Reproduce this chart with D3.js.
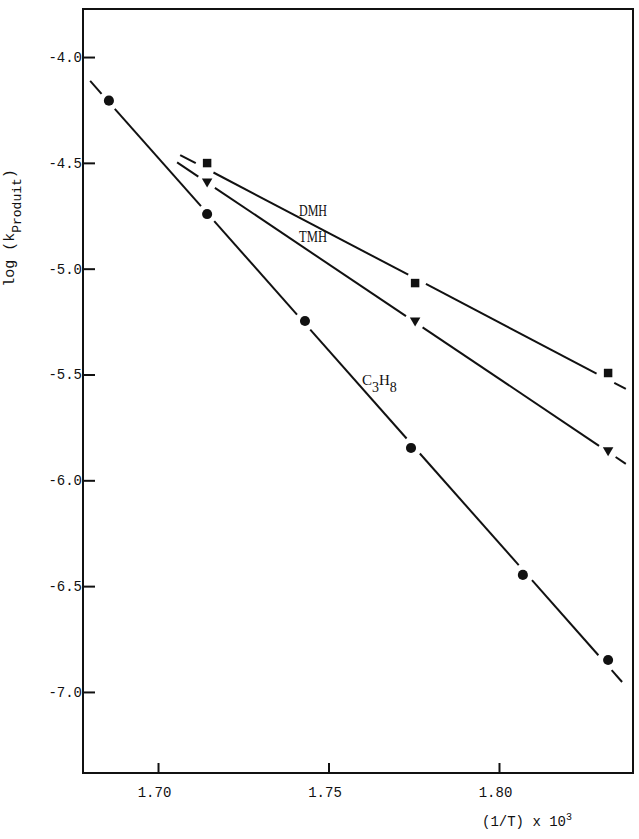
<!DOCTYPE html>
<html>
<head>
<meta charset="utf-8">
<script src="https://cdn.jsdelivr.net/npm/d3@7"></script>
<style>
  html, body { margin: 0; padding: 0; background: #fff; }
  svg { display: block; }
</style>
</head>
<body>
<div id="chart"></div>
<script>
// ---- Data ----
const seriesNames = ["C3H8", "DMH", "TMH"];

const c3h8X = [1.6856, 1.7144, 1.7431, 1.7742, 1.8070, 1.8320];
const c3h8Y = [-4.206, -4.742, -5.247, -5.847, -6.447, -6.849];

const dmhX = [1.7144, 1.7754, 1.8320];
const dmhY = [-4.501, -5.068, -5.493];

const tmhX = [1.7144, 1.7754, 1.8320];
const tmhY = [-4.588, -5.245, -5.858];

// fitted lines as drawn in the reference: [x0, y0, x1, y1]
const c3h8Line = [1.6801, -4.113, 1.8361, -6.953];
const dmhLine  = [1.7065, -4.463, 1.8372, -5.568];
const tmhLine  = [1.7056, -4.498, 1.8372, -5.922];

const xTickValues = [1.70, 1.75, 1.80];
const xTickLabels = ["1.70", "1.75", "1.80"];
const yTickValues = [-4.0, -4.5, -5.0, -5.5, -6.0, -6.5, -7.0];
const yTickLabels = ["-4.0", "-4.5", "-5.0", "-5.5", "-6.0", "-6.5", "-7.0"];

const xDomain = [1.678, 1.8393];
const yDomain = [-3.773, -7.383];

// ---- Layout ----
const W = 639, H = 839;
const margin = {left: 83, top: 9, right: 6, bottom: 66};
const innerW = W - margin.left - margin.right;   // 550
const innerH = H - margin.top - margin.bottom;    // 764
const ink = "#111";

const svg = d3.select("#chart").append("svg")
  .attr("width", W).attr("height", H);

const g = svg.append("g").attr("transform", `translate(${margin.left},${margin.top})`);

const x = d3.scaleLinear().domain(xDomain).range([0, innerW]);
const y = d3.scaleLinear().domain(yDomain).range([0, innerH]);

const mono = "'Liberation Mono', 'DejaVu Sans Mono', monospace";
const serif = "'Liberation Serif', 'DejaVu Serif', serif";

// ---- Axes ----
const yAxis = d3.axisLeft(y)
  .tickValues(yTickValues)
  .tickFormat((d, i) => yTickLabels[i])
  .tickSize(-12)
  .tickPadding(1);
const gy = g.append("g").call(yAxis);
gy.select(".domain").remove();
gy.selectAll(".tick line").attr("stroke", ink).attr("stroke-width", 2);
gy.selectAll(".tick text")
  .attr("fill", ink)
  .style("font-family", mono)
  .style("font-size", "14px");

const xAxis = d3.axisBottom(x)
  .tickValues(xTickValues)
  .tickFormat((d, i) => xTickLabels[i])
  .tickSize(-10)
  .tickPadding(14);
const gx = g.append("g").attr("transform", `translate(0,${innerH})`).call(xAxis);
gx.select(".domain").remove();
gx.selectAll(".tick line").attr("stroke", ink).attr("stroke-width", 2);
gx.selectAll(".tick text")
  .attr("fill", ink)
  .attr("dx", -4)
  .style("font-family", mono)
  .style("font-size", "14px");

// frame
g.append("rect")
  .attr("x", 0).attr("y", 0)
  .attr("width", innerW).attr("height", innerH)
  .attr("fill", "none").attr("stroke", ink).attr("stroke-width", 2);

// ---- Lines with gaps around markers ----
const lineGen = d3.line();
function drawBrokenLine(lineSpec, xs, ys, gap) {
  const p0 = [x(lineSpec[0]), y(lineSpec[1])];
  const p1 = [x(lineSpec[2]), y(lineSpec[3])];
  const dx = p1[0] - p0[0], dy = p1[1] - p0[1];
  const L = Math.hypot(dx, dy);
  const u = [dx / L, dy / L];
  const cuts = xs.map((xv, i) => {
    const mx = x(xv), my = y(ys[i]);
    const t = (mx - p0[0]) * u[0] + (my - p0[1]) * u[1];
    return [t - gap, t + gap];
  }).sort((a, b) => a[0] - b[0]);
  const segs = [];
  let start = 0;
  cuts.forEach(c => {
    if (c[0] > start) segs.push([start, Math.min(c[0], L)]);
    start = Math.max(start, c[1]);
  });
  if (start < L) segs.push([start, L]);
  segs.forEach(s => {
    const a = [p0[0] + u[0] * s[0], p0[1] + u[1] * s[0]];
    const b = [p0[0] + u[0] * s[1], p0[1] + u[1] * s[1]];
    g.append("path")
      .attr("d", lineGen([a, b]))
      .attr("fill", "none")
      .attr("stroke", ink)
      .attr("stroke-width", 2);
  });
}

drawBrokenLine(c3h8Line, c3h8X, c3h8Y, 10);
drawBrokenLine(dmhLine, dmhX, dmhY, 10);
drawBrokenLine(tmhLine, tmhX, tmhY, 10);

// ---- Markers ----
function drawMarkers(xs, ys, type, size, rotate) {
  const sym = d3.symbol().type(type).size(size);
  g.append("g").selectAll("path")
    .data(xs.map((xv, i) => [xv, ys[i]]))
    .join("path")
    .attr("d", sym)
    .attr("transform", d => `translate(${x(d[0])},${y(d[1])}) rotate(${rotate})`)
    .attr("fill", ink);
}
drawMarkers(c3h8X, c3h8Y, d3.symbolCircle, 80, 0);
drawMarkers(dmhX, dmhY, d3.symbolSquare, 72, 0);
drawMarkers(tmhX, tmhY, d3.symbolTriangle, 48, 180);

// ---- Series labels ----
svg.append("text")
  .attr("x", 299).attr("y", 216)
  .attr("textLength", 28).attr("lengthAdjust", "spacingAndGlyphs")
  .style("font-family", serif).style("font-size", "16px").attr("fill", ink)
  .text(seriesNames[1]);
svg.append("text")
  .attr("x", 299).attr("y", 242)
  .attr("textLength", 28).attr("lengthAdjust", "spacingAndGlyphs")
  .style("font-family", serif).style("font-size", "16px").attr("fill", ink)
  .text(seriesNames[2]);

const c3 = svg.append("text")
  .attr("x", 362).attr("y", 385)
  .style("font-family", serif).style("font-size", "15px").attr("fill", ink);
c3.append("tspan").text("C");
c3.append("tspan").attr("dy", 7).style("font-size", "14px").text("3");
c3.append("tspan").attr("dy", -7).text("H");
c3.append("tspan").attr("dy", 7).style("font-size", "14px").text("8");

// ---- Axis titles ----
const yl = svg.append("text")
  .attr("transform", "translate(14,228) rotate(-90)")
  .attr("text-anchor", "middle")
  .style("font-family", mono).style("font-size", "15px").attr("fill", ink);
yl.append("tspan").text("log (k");
yl.append("tspan").attr("dy", 7).style("font-size", "13px").text("Produit");
yl.append("tspan").attr("dy", -7).text(")");

const xl = svg.append("text")
  .attr("x", 482).attr("y", 826)
  .style("font-family", mono).style("font-size", "14px").attr("fill", ink);
xl.append("tspan").text("(1/T) x 10");
xl.append("tspan").attr("dy", -6).style("font-size", "10px").text("3");
</script>
</body>
</html>
